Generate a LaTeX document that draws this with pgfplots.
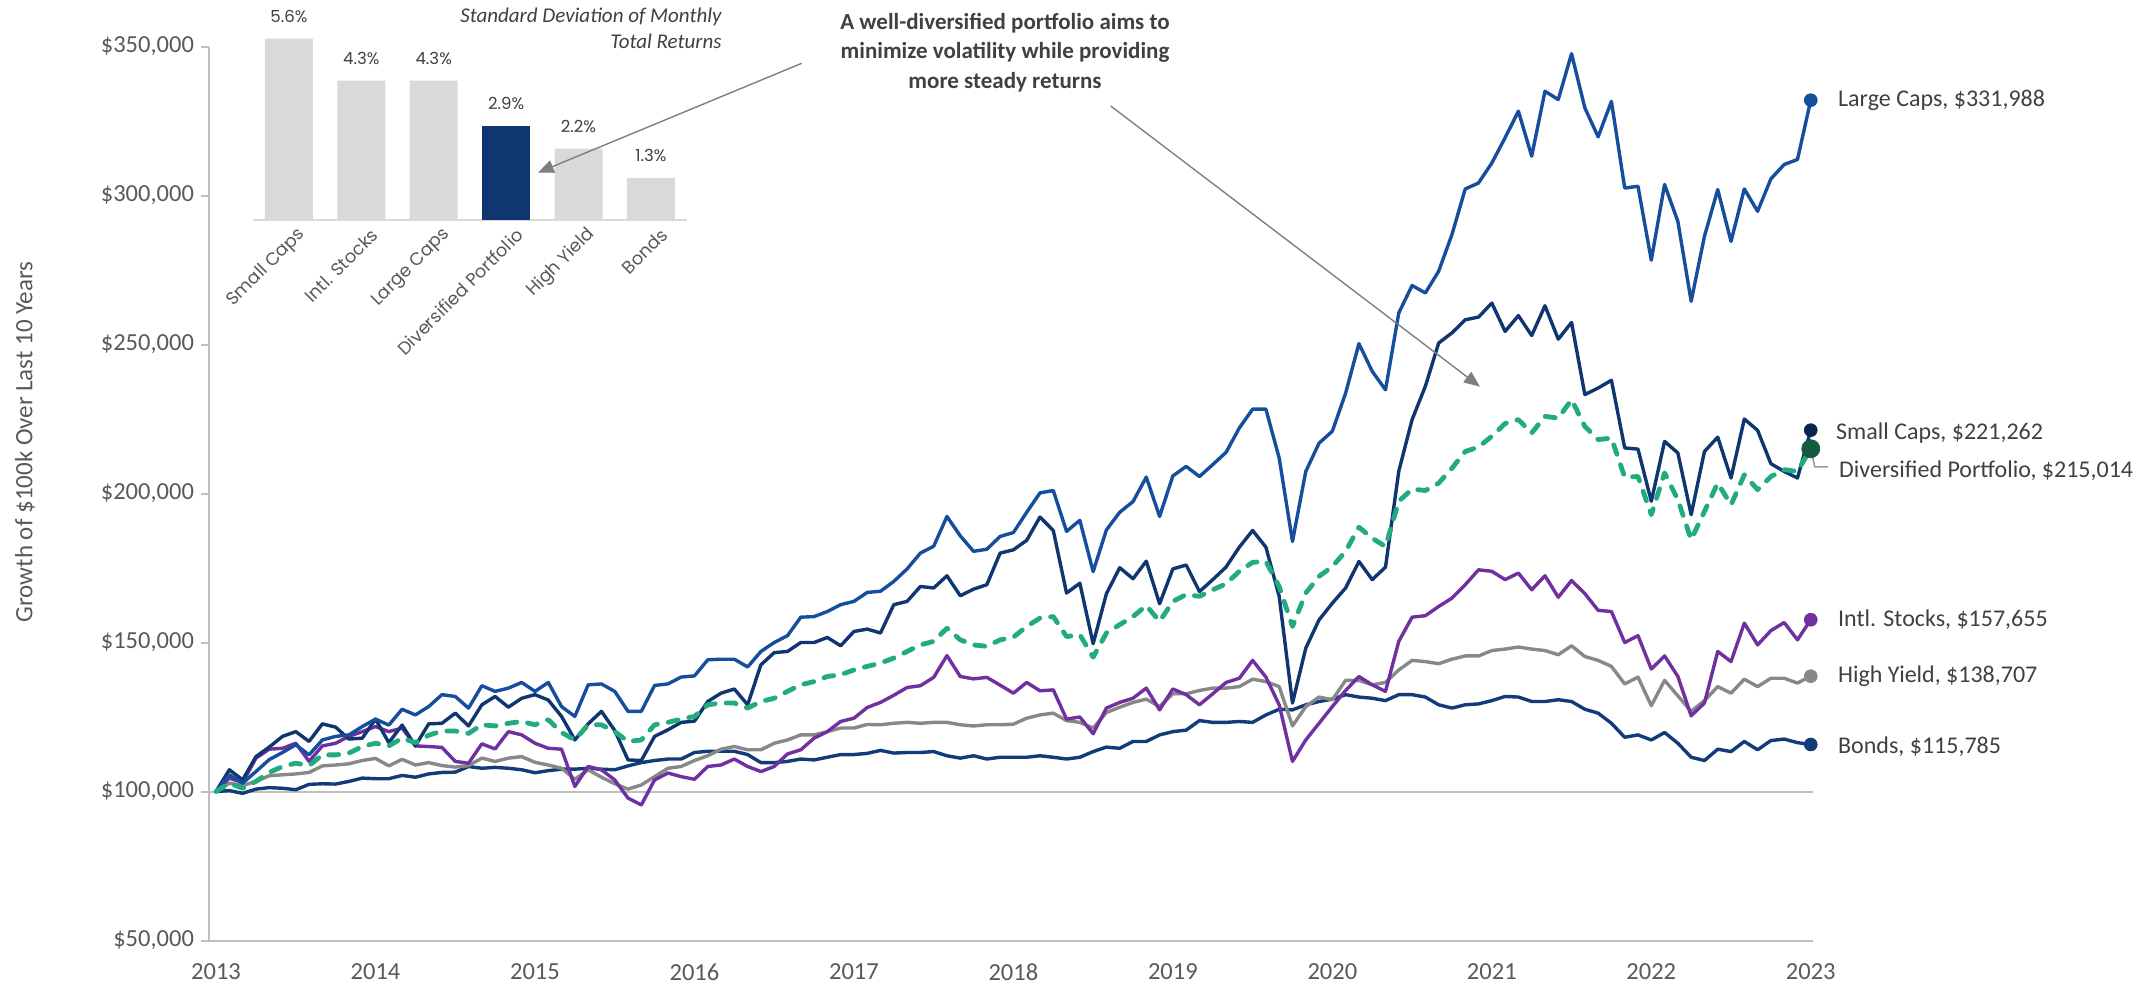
\documentclass[border=0pt]{standalone}
\usepackage{fontspec}
\setmainfont{Carlito}
\newfontfamily\gothic{Poppins}
\usepackage{pgfplots}
\pgfplotsset{compat=1.18}
\usepackage{pgfplotstable}
\usetikzlibrary{arrows.meta}

\definecolor{lcap}{HTML}{164E9E}
\definecolor{scap}{HTML}{0F3670}
\definecolor{divp}{HTML}{22AB7F}
\definecolor{divdot}{HTML}{155C3E}
\definecolor{intl}{HTML}{7030A0}
\definecolor{hyld}{HTML}{888888}
\definecolor{bond}{HTML}{123B7A}
\definecolor{txt}{HTML}{404040}
\definecolor{tickc}{HTML}{595959}
\definecolor{axl}{HTML}{BFBFBF}
\definecolor{barg}{HTML}{D9D9D9}
\definecolor{arr}{HTML}{7F7F7F}

% growth of $100k, in thousands, month 0 = start of 2013
\pgfplotstableread{
m   lc      sc      dp      intl    hy      bd
0   100     100     100     100     100     100
1   105.6   107.3   102.8   104.5   102.8   100.3
2   102.8   103.9   101.1   103.0   102.0   99.4
3   106.7   111.7   103.4   111.2   103.4   100.8
4   110.7   114.9   106.4   114.2   105.3   101.3
5   113.1   118.5   108.4   114.5   105.6   101.1
6   115.7   120.1   109.5   116.2   105.9   100.6
7   112.3   116.8   108.7   110.1   106.4   102.4
8   117.3   122.7   112.3   115.3   108.6   102.6
9   118.5   121.6   112.3   116.2   108.9   102.5
10  119.0   117.6   112.9   118.5   109.3   103.4
11  121.8   117.9   115.1   120.1   110.4   104.5
12  124.3   124.3   116.2   121.8   111.1   104.3
13  122.3   116.4   115.3   120.1   108.6   104.3
14  127.6   122.3   117.9   121.3   110.8   105.4
15  125.7   115.3   116.4   115.3   108.9   104.8
16  128.5   122.7   118.9   115.1   109.7   105.9
17  132.5   122.9   120.3   114.8   108.7   106.4
18  131.9   126.3   120.3   110.1   108.2   106.5
19  128.0   122.0   119.5   109.5   108.7   108.4
20  135.5   129.1   122.4   116.0   111.2   107.8
21  133.6   131.9   122.0   114.3   110.1   108.1
22  134.7   128.3   122.9   120.1   111.2   107.8
23  136.6   131.3   123.5   119.0   111.7   107.3
24  133.6   132.5   122.4   116.2   109.8   106.3
25  136.6   130.7   124.1   114.5   108.9   107.0
26  128.5   125.2   119.8   114.2   107.8   107.5
27  125.2   117.3   117.3   101.7   104.1   107.5
28  135.8   122.7   122.4   108.4   107.3   107.8
29  136.1   126.9   122.4   107.3   104.8   107.5
30  133.6   120.5   120.1   103.9   102.6   107.3
31  126.9   110.6   116.8   97.8    100.8   108.6
32  126.9   110.4   117.3   95.5    102.2   109.7
33  135.6   118.5   122.4   103.9   105.0   110.4
34  136.1   120.7   123.2   106.2   107.8   110.9
35  138.4   123.2   124.3   105.0   108.4   110.9
36  138.8   123.6   125.2   104.1   110.4   113.1
37  144.2   130.2   129.1   108.4   112.0   113.5
38  144.4   133.0   129.7   108.9   114.2   113.5
39  144.4   134.4   129.7   110.9   115.1   113.5
40  141.8   129.1   128.0   108.4   114.0   112.4
41  147.0   142.5   130.2   106.7   114.0   109.7
42  150.0   146.6   131.3   108.4   116.2   109.7
43  152.3   147.0   133.6   112.6   117.3   110.1
44  158.5   150.0   135.8   114.0   119.0   110.9
45  158.7   150.0   136.9   117.9   119.0   110.6
46  160.4   151.7   138.6   120.1   120.1   111.5
47  162.7   148.9   139.2   123.5   121.3   112.4
48  163.8   153.7   140.8   124.6   121.3   112.4
49  166.8   154.5   142.0   128.2   122.5   112.8
50  167.2   153.2   143.1   129.9   122.4   113.8
51  170.5   162.7   144.8   132.3   122.9   112.9
52  174.7   163.8   147.0   134.9   123.2   113.1
53  180.0   168.8   149.2   135.5   122.9   113.1
54  182.3   168.3   150.4   138.3   123.2   113.4
55  192.3   172.4   154.8   145.6   123.2   112.0
56  185.8   165.7   150.9   138.6   122.4   111.2
57  180.6   167.9   149.2   137.8   122.0   112.0
58  181.3   169.4   148.7   138.3   122.4   110.9
59  185.6   180.0   150.9   135.7   122.4   111.5
60  186.9   181.1   151.8   133.0   122.6   111.5
61  193.7   184.3   155.4   136.6   124.6   111.5
62  200.2   192.1   158.2   133.8   125.7   112.0
63  201.0   187.6   158.7   134.1   126.3   111.5
64  187.3   166.6   152.0   124.3   123.8   110.9
65  191.0   169.9   152.6   125.0   123.2   111.5
66  173.8   149.6   145.1   119.4   121.3   113.4
67  187.8   166.4   153.2   128.0   126.5   114.9
68  193.7   175.1   156.0   129.9   128.3   114.5
69  197.3   171.4   158.7   131.3   129.9   116.8
70  205.5   177.3   162.4   134.7   131.0   116.8
71  192.3   163.0   157.1   127.4   128.5   119.0
72  205.9   174.7   163.8   134.4   132.8   120.1
73  209.1   176.0   166.1   132.5   132.8   120.6
74  205.7   167.1   165.5   129.1   133.9   123.8
75  209.7   171.1   167.7   132.8   134.7   123.2
76  213.8   175.3   169.7   136.6   134.7   123.2
77  222.0   182.0   173.9   138.0   135.2   123.5
78  228.3   187.6   176.9   144.0   137.7   123.2
79  228.3   182.0   177.2   138.4   136.9   125.7
80  211.9   165.5   168.8   129.1   135.2   127.6
81  183.9   129.7   155.4   110.1   122.0   127.4
82  207.4   148.1   166.6   117.3   128.5   129.1
83  216.9   157.6   172.2   122.9   131.7   130.2
84  220.9   163.2   175.5   128.5   130.8   131.0
85  233.7   168.3   180.6   133.9   137.3   132.5
86  250.3   177.2   188.7   138.6   137.3   131.7
87  241.0   171.1   185.0   135.8   135.8   131.3
88  234.8   175.3   182.2   133.6   136.6   130.5
89  260.6   207.5   197.4   150.4   140.8   132.5
90  269.8   224.8   201.5   158.5   144.0   132.5
91  267.3   236.0   201.0   159.0   143.6   131.7
92  274.6   250.5   203.5   162.1   142.9   129.1
93  286.9   253.9   208.5   164.9   144.4   128.0
94  302.2   258.3   214.1   169.4   145.5   129.1
95  304.2   259.2   215.6   174.4   145.5   129.4
96  310.9   263.9   219.2   173.9   147.3   130.5
97  319.4   254.4   223.5   171.1   147.8   131.9
98  328.3   259.7   224.8   173.3   148.5   131.7
99  313.2   253.0   220.3   167.7   147.8   130.2
100 335.0   263.0   225.9   172.4   147.3   130.2
101 332.2   251.8   225.3   165.2   145.9   130.8
102 347.6   257.4   231.5   170.8   148.9   130.2
103 329.4   233.2   222.5   166.4   145.3   127.6
104 319.7   235.4   218.1   160.8   144.0   126.3
105 331.6   238.0   218.6   160.4   142.0   122.9
106 302.5   215.3   205.5   150.0   136.1   118.2
107 303.1   214.9   205.7   152.3   138.4   119.0
108 278.3   197.4   192.9   141.1   128.8   117.3
109 303.7   217.5   206.9   145.5   137.3   119.8
110 291.3   213.6   197.9   138.6   132.1   116.2
111 264.5   192.9   184.5   125.4   126.9   111.5
112 286.3   214.1   194.0   129.7   130.5   110.4
113 302.0   218.9   203.5   147.0   135.2   114.2
114 284.6   205.2   196.2   143.6   133.0   113.4
115 302.2   225.0   206.3   156.5   137.7   116.8
116 294.7   221.2   201.3   149.2   135.2   114.0
117 305.6   210.0   205.7   154.0   138.0   117.1
118 310.4   207.4   208.0   156.7   138.0   117.6
119 312.1   205.2   207.4   150.9   136.4   116.4
120 331.988 221.262 215.014 157.655 138.707 115.785
}\growth

\pgfplotstableread{
x  sd
0  5.6
1  4.3
2  4.3
4  2.2
5  1.3
}\sdgray
\pgfplotstableread{
x  sd
3  2.9
}\sddiv

\tikzset{
  series/.style={line width=1.7pt, line join=round},
  endlbl/.style={anchor=west, inner sep=0pt, text=txt, font=\fontsize{12}{14}\selectfont},
}

\begin{document}
\begin{tikzpicture}
\begin{axis}[
  at={(104.5pt,-470.25pt)}, anchor=south west,
  scale only axis, width=802pt, height=447pt,
  xmin=-0.53, xmax=120.17, ymin=50, ymax=350,
  axis x line*=bottom, axis y line*=left,
  axis line style={axl, line width=1pt},
  xtick={0,12,...,120},
  xticklabels={2013,2014,2015,2016,2017,2018,2019,2020,2021,2022,2023},
  major x tick style={draw=none},
  xticklabel style={yshift=-4pt},
  ytick={50,100,...,350},
  yticklabels={\$50{,}000,\$100{,}000,\$150{,}000,\$200{,}000,\$250{,}000,\$300{,}000,\$350{,}000},
  tick align=outside, major tick length=4pt,
  major y tick style={axl, line width=1pt},
  ticklabel style={font=\fontsize{12.25}{14}\selectfont, text=tickc},
  clip=false,
]
  \draw[axl, line width=1pt] (axis cs:-0.53,100) -- (axis cs:120.17,100);

  \addplot[series, bond] table[x=m, y=bd] {\growth};
  \addplot[series, hyld] table[x=m, y=hy] {\growth};
  \addplot[series, intl] table[x=m, y=intl] {\growth};
  \addplot[series, scap] table[x=m, y=sc] {\growth};
  \addplot[series, lcap] table[x=m, y=lc] {\growth};
  \addplot[line width=2.4pt, divp, line cap=round, line join=round,
           dash pattern=on 5pt off 5.5pt] table[x=m, y=dp] {\growth};

  \draw[axl!80!black, line width=0.75pt]
    (axis cs:120,215.014) -- ([shift={(2pt,-9pt)}]axis cs:120,215.014)
    -- ([shift={(8.7pt,-9pt)}]axis cs:120,215.014);

  \addplot[only marks, mark=*, mark size=3.2pt, bond] coordinates {(120,115.785)};
  \addplot[only marks, mark=*, mark size=3.2pt, hyld] coordinates {(120,138.707)};
  \addplot[only marks, mark=*, mark size=3.2pt, intl] coordinates {(120,157.655)};
  \addplot[only marks, mark=*, mark size=3.2pt, scap!70!black] coordinates {(120,221.262)};
  \addplot[only marks, mark=*, mark size=4.5pt, divdot] coordinates {(120,215.014)};
  \addplot[only marks, mark=*, mark size=3.2pt, lcap] coordinates {(120,331.988)};

  \node[endlbl, xshift=13.5pt] at (axis cs:120,331.988) {Large Caps, \$331,988};
  \node[endlbl, xshift=12.5pt, yshift=-1.5pt] at (axis cs:120,221.262) {Small Caps, \$221,262};
  \node[endlbl, xshift=14pt, yshift=-11.2pt] at (axis cs:120,215.014) {Diversified Portfolio, \$215,014};
  \node[endlbl, xshift=13.5pt] at (axis cs:120,157.655) {Intl. Stocks, \$157,655};
  \node[endlbl, xshift=13.5pt] at (axis cs:120,138.707) {High Yield, \$138,707};
  \node[endlbl, xshift=13.5pt, yshift=-1pt] at (axis cs:120,115.785) {Bonds, \$115,785};
\end{axis}

\begin{scope}[x=0.5pt, y=-0.5pt]
  \fill[white] (210.5,0) rectangle (740,388);
  \node[rotate=90, text=tickc, font=\fontsize{12.5}{14}\selectfont] at (25,442)
    {Growth of \$100k Over Last 10 Years};
  \node[anchor=east, align=right, inner sep=0pt, text=txt,
        font=\itshape\fontsize{10.5}{13.35}\selectfont] at (722,28.3)
    {Standard Deviation of Monthly\\Total Returns};
  \node[align=center, text=txt, font=\bfseries\fontsize{11.5}{14.75}\selectfont] at (1005,52.5)
    {A well-diversified portfolio aims to\\minimize volatility while providing\\more steady returns};
\end{scope}

\begin{axis}[
  at={(126.35pt,-110pt)}, anchor=south west,
  scale only axis, width=217.2pt, height=97.2pt,
  xmin=-0.5, xmax=5.5, ymin=0, ymax=6,
  axis x line*=bottom, axis y line=none,
  axis line style={barg, line width=1pt},
  xtick={0,...,5},
  xticklabels={Small Caps, Intl. Stocks, Large Caps, Diversified Portfolio, High Yield, Bonds},
  major x tick style={draw=none},
  xticklabel style={rotate=45, anchor=east, xshift=4pt, yshift=-9pt,
                    text=tickc, font=\gothic\fontsize{8.9}{10}\selectfont},
  ytick=\empty,
  clip=false,
  /pgf/number format/assume math mode=true,
  every node near coord/.append style={text=txt, font=\gothic\fontsize{8.3}{10}\selectfont, yshift=4.5pt},
]
  \addplot[ybar, bar width=24pt, bar shift=0pt, fill=barg, draw=none,
           nodes near coords={\pgfmathprintnumber[fixed,fixed zerofill,precision=1]{\pgfplotspointmeta}\%}]
    table[x=x, y=sd] {\sdgray};
  \addplot[ybar, bar width=24pt, bar shift=0pt, fill=scap, draw=none,
           nodes near coords={\pgfmathprintnumber[fixed,fixed zerofill,precision=1]{\pgfplotspointmeta}\%}]
    table[x=x, y=sd] {\sddiv};
\end{axis}

\begin{scope}[x=0.5pt, y=-0.5pt]
  \draw[arr, line width=0.7pt, -{Triangle[length=8pt, width=6.5pt]}] (801.7,63.3) -- (537.8,172.7);
  \draw[arr, line width=0.7pt, -{Triangle[length=8pt, width=6.5pt]}] (1110.7,106) -- (1480,386.7);
  \pgfresetboundingbox
  \path[use as bounding box] (0,0) rectangle (2156,986);
\end{scope}
\end{tikzpicture}
\end{document}
